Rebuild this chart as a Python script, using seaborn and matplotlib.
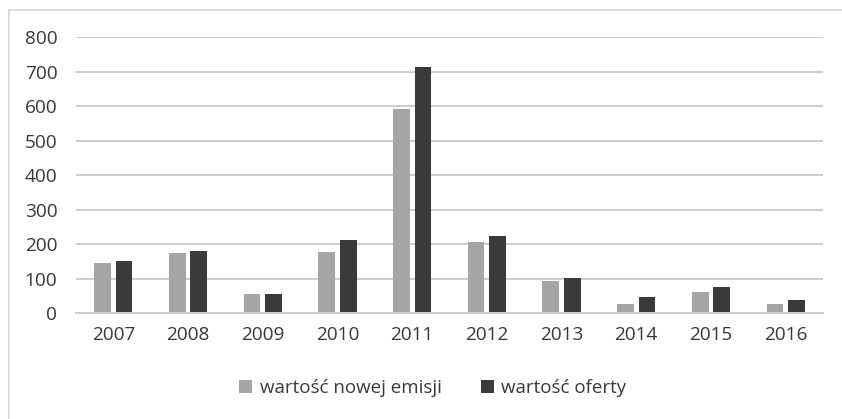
import matplotlib
matplotlib.use("Agg")
import matplotlib.pyplot as plt
import seaborn as sns
import pandas as pd
from matplotlib.lines import Line2D
from matplotlib.patches import Patch

years = ["2007", "2008", "2009", "2010", "2011", "2012", "2013", "2014", "2015", "2016"]
nowa_emisja = [145, 175, 56, 178, 592, 206, 94, 27, 61, 27]
oferta = [151, 180, 56, 211, 713, 223, 102, 47, 76, 39]
series_names = ["wartość nowej emisji", "wartość oferty"]
yticks = [0, 100, 200, 300, 400, 500, 600, 700, 800]

df = pd.DataFrame({
    "rok": years * 2,
    "wartosc": nowa_emisja + oferta,
    "seria": [series_names[0]] * len(years) + [series_names[1]] * len(years),
})

sns.set_theme(style="white")
plt.rcParams["font.family"] = ["Open Sans", "DejaVu Sans"]

colors = ["#a5a5a5", "#3a3a3a"]
text_color = "#383838"
grid_color = "#cccccc"

fig = plt.figure(figsize=(8.42, 4.19), dpi=100)
ax = fig.add_axes([76 / 842, 1 - 313.3 / 419, (823 - 76) / 842, (313.3 - 37) / 419])

sns.barplot(data=df, x="rok", y="wartosc", hue="seria", order=years,
            hue_order=series_names, palette=colors, width=0.576, gap=0.22,
            saturation=1, ax=ax, legend=False, linewidth=0)

ax.set_ylim(0, 800)
ax.set_yticks(yticks)
ax.set_xlim(-0.5, len(years) - 0.5)
ax.set_xlabel("")
ax.set_ylabel("")
ax.yaxis.grid(True, color=grid_color, linewidth=1.4)
ax.set_axisbelow(True)
for s in ["top", "right", "left"]:
    ax.spines[s].set_visible(False)
ax.spines["bottom"].set_color(grid_color)
ax.spines["bottom"].set_linewidth(1.4)
ax.tick_params(axis="y", length=0, pad=13.5, labelsize=13.7, labelcolor=text_color)
ax.tick_params(axis="x", length=0, pad=9.5, labelsize=13.7, labelcolor=text_color)

handles = [Patch(facecolor=c, edgecolor="none") for c in colors]
fig.legend(handles, series_names, loc="center", bbox_to_anchor=(0.514, 0.074),
           ncol=2, frameon=False, fontsize=13.5, labelcolor=text_color,
           handlelength=0.7, handleheight=0.7, handletextpad=0.4, columnspacing=2.1)

# outer chart border (left and top visible)
fig.add_artist(Line2D([8.5 / 842, 8.5 / 842], [0, 1 - 10 / 419], color="#d6d6d6", lw=1.2,
                      transform=fig.transFigure))
fig.add_artist(Line2D([8.5 / 842, 1], [1 - 10 / 419, 1 - 10 / 419], color="#d6d6d6", lw=1.2,
                      transform=fig.transFigure))

fig.savefig("out.png", dpi=100)
